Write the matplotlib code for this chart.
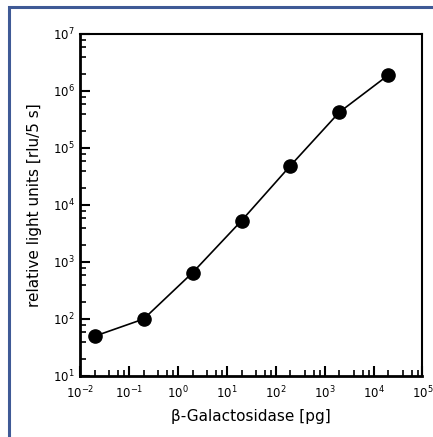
import matplotlib
matplotlib.use("Agg")
import matplotlib.pyplot as plt
from matplotlib.patches import Rectangle
from matplotlib.ticker import LogLocator, FixedLocator, NullFormatter

# Data
enzyme_pg = [0.02, 0.2, 2, 20, 200, 2000, 20000]
light_rlu = [50, 100, 650, 5300, 49000, 425000, 1.9e6]

x_ticks = [10.0 ** e for e in range(-2, 6)]
x_labels = [r'$10^{%d}$' % e for e in range(-2, 6)]
y_ticks = [10.0 ** e for e in range(1, 8)]
y_labels = [r'$10^{%d}$' % e for e in range(1, 8)]

fig = plt.figure(figsize=(4.33, 4.37), dpi=100)
ax = fig.add_axes([0.1848, 0.1396, 0.7909, 0.7826])

# Line with filled circles
ax.plot(enzyme_pg, light_rlu, color='black', linewidth=1.2,
        marker='o', markersize=9.5, markerfacecolor='black')

ax.set_xscale('log')
ax.set_yscale('log')
ax.set_xlim(1e-2, 1e5)
ax.set_ylim(1e1, 1e7)

ax.xaxis.set_major_locator(FixedLocator(x_ticks))
ax.set_xticklabels(x_labels)
ax.yaxis.set_major_locator(FixedLocator(y_ticks))
ax.set_yticklabels(y_labels)
ax.xaxis.set_minor_locator(LogLocator(base=10, subs=(2, 4, 6, 8)))
ax.yaxis.set_minor_locator(LogLocator(base=10, subs=(2, 4, 6, 8)))
ax.xaxis.set_minor_formatter(NullFormatter())
ax.yaxis.set_minor_formatter(NullFormatter())

ax.tick_params(which='major', direction='in', length=7, width=1.5,
               labelsize=8.5, top=False, right=False)
ax.tick_params(axis='x', which='major', pad=6)
ax.tick_params(axis='y', which='major', pad=4)
ax.tick_params(which='minor', direction='in', length=4, width=1.2,
               top=False, right=False)

for side in ['left', 'bottom']:
    ax.spines[side].set_linewidth(2)
for side in ['top', 'right']:
    ax.spines[side].set_linewidth(1.5)

ax.set_xlabel('β-Galactosidase [pg]', fontsize=11, labelpad=6)
ax.set_ylabel('relative light units [rlu/5 s]', fontsize=11, labelpad=8)

# Blue frame around the panel (runs off the right and bottom edges)
fig.add_artist(Rectangle((9 / 433, -0.1), 1.2, 0.1 + (437 - 7) / 437,
                         transform=fig.transFigure, fill=False,
                         edgecolor='#3f5a96', linewidth=2.2))

fig.savefig('out.png', dpi=100)
